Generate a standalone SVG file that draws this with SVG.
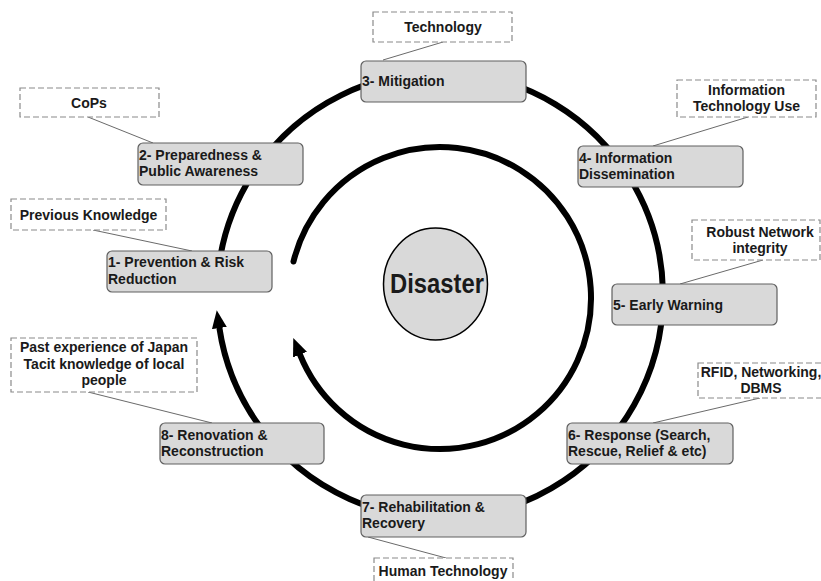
<svg xmlns="http://www.w3.org/2000/svg" width="821" height="581" viewBox="0 0 821 581">
<style>
.stage{fill:#d9d9d9;stroke:#606060;stroke-width:1.2}
.note{fill:#ffffff;stroke:#8a8a8a;stroke-width:1.2;stroke-dasharray:6,3}
.t{font-family:"Liberation Sans",Arial,sans-serif;font-weight:bold;font-size:14px;fill:#1a1a1a}
.c{text-anchor:middle}
.link{stroke:#6a6a6a;stroke-width:1;fill:none}
.cycle{stroke:#000;stroke-width:6;fill:none;stroke-linecap:round}
</style>
<defs>
<marker id="ah" markerUnits="userSpaceOnUse" markerWidth="20" markerHeight="18" viewBox="0 -9 20 18" refX="0" refY="0" orient="auto">
<path d="M0,-7.5 L18,0 L0,7.5 z" fill="#000"/>
</marker>
</defs>
<rect width="821" height="581" fill="#fff"/>
<g id="connectors">
<path class="cycle" d="M218.2,271.7 A223,223 0 1 1 219.4,328" marker-end="url(#ah)"/>
<path class="cycle" d="M293.5,261.5 A151,151 0 1 1 300,354.6" marker-end="url(#ah)"/>
<line class="link" x1="443" y1="42" x2="383" y2="60"/>
<line class="link" x1="88" y1="117" x2="153" y2="143"/>
<line class="link" x1="93" y1="230" x2="192" y2="251"/>
<line class="link" x1="748" y1="117" x2="653" y2="146"/>
<line class="link" x1="763" y1="260" x2="680" y2="284"/>
<line class="link" x1="760" y1="398" x2="653" y2="423"/>
<line class="link" x1="88" y1="392" x2="212" y2="423"/>
<line class="link" x1="368" y1="537" x2="446" y2="558"/>
</g>
<g id="disaster">
<ellipse cx="435.5" cy="284" rx="52" ry="56" fill="#d9d9d9" stroke="#000" stroke-width="1.5"/>
<text class="t c" x="437" y="293" style="font-size:27px" textLength="94" lengthAdjust="spacingAndGlyphs">Disaster</text>
</g>
<g id="stage1">
<rect class="stage" x="107" y="251" width="165" height="41" rx="5"/>
<text class="t" x="108" y="267">1- Prevention &amp; Risk</text>
<text class="t" x="108" y="283.5">Reduction</text>
</g>
<g id="stage2">
<rect class="stage" x="138" y="143" width="165" height="42" rx="5"/>
<text class="t" x="139" y="159.5">2- Preparedness &amp;</text>
<text class="t" x="139" y="176">Public Awareness</text>
</g>
<g id="stage3">
<rect class="stage" x="361" y="61" width="165" height="41" rx="5"/>
<text class="t" x="362" y="85.5">3- Mitigation</text>
</g>
<g id="stage4">
<rect class="stage" x="578" y="146" width="165" height="41" rx="5"/>
<text class="t" x="579" y="162.5">4- Information</text>
<text class="t" x="579" y="179">Dissemination</text>
</g>
<g id="stage5">
<rect class="stage" x="612" y="284" width="165" height="41" rx="5"/>
<text class="t" x="613" y="309.5">5- Early Warning</text>
</g>
<g id="stage6">
<rect class="stage" x="567" y="423" width="166" height="41" rx="5"/>
<text class="t" x="568" y="439.5">6- Response (Search,</text>
<text class="t" x="568" y="456">Rescue, Relief &amp; etc)</text>
</g>
<g id="stage7">
<rect class="stage" x="361" y="495" width="165" height="42" rx="5"/>
<text class="t" x="362" y="511.5">7- Rehabilitation &amp;</text>
<text class="t" x="362" y="528">Recovery</text>
</g>
<g id="stage8">
<rect class="stage" x="160" y="423" width="164" height="41" rx="5"/>
<text class="t" x="161" y="439.5">8- Renovation &amp;</text>
<text class="t" x="161" y="456">Reconstruction</text>
</g>
<g id="note-technology">
<rect class="note" x="373" y="12" width="139" height="30"/>
<text class="t c" x="443" y="31.5">Technology</text>
</g>
<g id="note-cops">
<rect class="note" x="20" y="88" width="139" height="29"/>
<text class="t c" x="89" y="107.5">CoPs</text>
</g>
<g id="note-previous">
<rect class="note" x="11" y="199" width="155" height="31"/>
<text class="t c" x="88.5" y="219.5">Previous Knowledge</text>
</g>
<g id="note-itu">
<rect class="note" x="677" y="80" width="139" height="37"/>
<text class="t c" x="746.5" y="94.5">Information</text>
<text class="t c" x="746.5" y="111">Technology Use</text>
</g>
<g id="note-robust">
<rect class="note" x="692" y="220" width="128" height="40"/>
<text class="t c" x="760" y="236.5">Robust Network</text>
<text class="t c" x="760" y="253">integrity</text>
</g>
<g id="note-rfid">
<rect class="note" x="698" y="363" width="130" height="35"/>
<text class="t c" x="761" y="376.5">RFID, Networking,</text>
<text class="t c" x="761" y="392.5">DBMS</text>
</g>
<g id="note-past">
<rect class="note" x="11" y="338" width="186" height="54"/>
<text class="t c" x="104" y="352">Past experience of Japan</text>
<text class="t c" x="104" y="368.5">Tacit knowledge of local</text>
<text class="t c" x="104" y="385">people</text>
</g>
<g id="note-human">
<rect class="note" x="374" y="558" width="139" height="30"/>
<text class="t c" x="443" y="575.5">Human Technology</text>
</g>
</svg>
